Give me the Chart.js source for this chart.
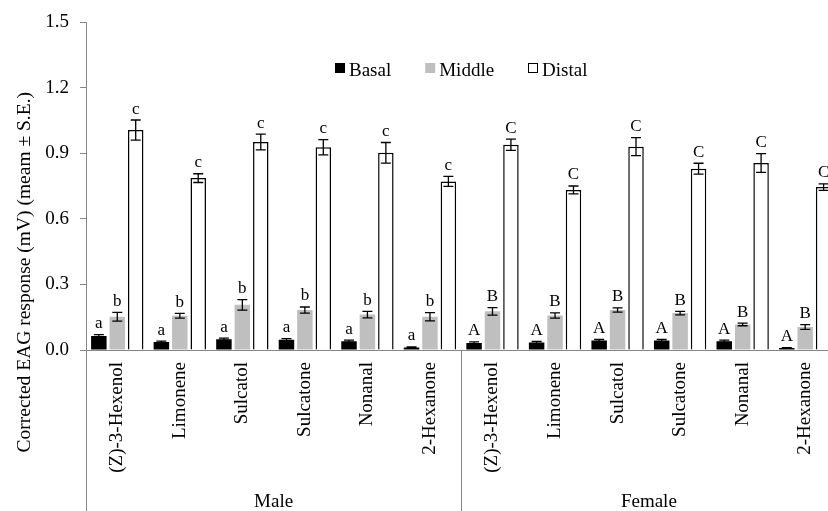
<!DOCTYPE html>
<html>
<head>
<meta charset="utf-8">
<script src="https://cdn.jsdelivr.net/npm/chart.js@4.4.1/dist/chart.umd.min.js"></script>
<style>
  html, body { margin: 0; padding: 0; background: #fff; overflow: hidden; }
  #wrap { width: 828px; height: 511px; overflow: hidden; }
</style>
</head>
<body>
<div id="wrap"><canvas id="eagChart" width="840" height="511"></canvas></div>
<script>
const compounds = ['(Z)-3-Hexenol', 'Limonene', 'Sulcatol', 'Sulcatone', 'Nonanal', '2-Hexanone'];
const categories = compounds.concat(compounds);
const groupLabels = ['Male', 'Female'];
const yTicks = [0, 0.3, 0.6, 0.9, 1.2, 1.5];

const basal = [0.064, 0.037, 0.049, 0.047, 0.040, 0.012, 0.032, 0.034, 0.043, 0.043, 0.040, 0.009];
const basalErr = [0.006, 0.004, 0.005, 0.005, 0.005, 0.002, 0.005, 0.005, 0.005, 0.005, 0.005, 0.002];
const middle = [0.152, 0.157, 0.207, 0.183, 0.162, 0.152, 0.177, 0.158, 0.183, 0.169, 0.117, 0.105];
const middleErr = [0.020, 0.011, 0.024, 0.014, 0.015, 0.019, 0.017, 0.012, 0.010, 0.008, 0.006, 0.011];
const distal = [1.007, 0.787, 0.952, 0.928, 0.903, 0.772, 0.940, 0.733, 0.931, 0.830, 0.856, 0.746];
const distalErr = [0.046, 0.020, 0.036, 0.035, 0.047, 0.023, 0.026, 0.018, 0.041, 0.025, 0.043, 0.015];

const basalLetters = ['a', 'a', 'a', 'a', 'a', 'a', 'A', 'A', 'A', 'A', 'A', 'A'];
const middleLetters = ['b', 'b', 'b', 'b', 'b', 'b', 'B', 'B', 'B', 'B', 'B', 'B'];
const distalLetters = ['c', 'c', 'c', 'c', 'c', 'c', 'C', 'C', 'C', 'C', 'C', 'C'];

const yTitle = 'Corrected EAG response (mV) (meam \u00b1 S.E.)';

const SERIF = '"Liberation Serif", "Times New Roman", serif';
const AXIS_GRAY = '#878787';

// error bars + significance letters, positioned from the bar elements
const errorBarPlugin = {
    id: 'errorBars',
    afterDatasetsDraw(chart) {
        const ctx = chart.ctx;
        const y = chart.scales.y;
        ctx.save();
        chart.data.datasets.forEach((ds, i) => {
            const meta = chart.getDatasetMeta(i);
            meta.data.forEach((bar, j) => {
                const v = ds.data[j];
                const e = ds.errors[j];
                const top = y.getPixelForValue(v + e);
                const bot = y.getPixelForValue(v - e);
                ctx.strokeStyle = '#000';
                ctx.lineWidth = 1.3;
                ctx.beginPath();
                ctx.moveTo(bar.x, top); ctx.lineTo(bar.x, bot);
                ctx.moveTo(bar.x - 5, top); ctx.lineTo(bar.x + 5, top);
                ctx.moveTo(bar.x - 5, bot); ctx.lineTo(bar.x + 5, bot);
                ctx.stroke();

                ctx.fillStyle = '#000';
                ctx.font = '17px ' + SERIF;
                ctx.textAlign = 'center';
                ctx.textBaseline = 'alphabetic';
                ctx.fillText(ds.letters[j], bar.x, top - 6.5);
            });
        });
        ctx.restore();
    }
};

// legend row inside the plot, group separators under the axis, y axis title
const decorPlugin = {
    id: 'decor',
    afterDraw(chart) {
        const ctx = chart.ctx;
        const area = chart.chartArea;
        const x = chart.scales.x;
        const half = (x.getPixelForValue(1) - x.getPixelForValue(0)) / 2;
        ctx.save();
        ctx.strokeStyle = AXIS_GRAY;
        ctx.lineWidth = 1;
        [0, compounds.length, categories.length].forEach(i => {
            const px = Math.round(x.getPixelForValue(i) - half) + 0.5;
            ctx.beginPath();
            ctx.moveTo(px, area.bottom);
            ctx.lineTo(px, chart.height);
            ctx.stroke();
        });

        // legend
        ctx.font = '19px ' + SERIF;
        const box = 10, gap = 4, spacing = 34;
        const items = chart.data.datasets.map(ds => ({ ds, w: ctx.measureText(ds.label).width }));
        const total = items.reduce((s, it) => s + box + gap + it.w, 0) + spacing * (items.length - 1);
        let lx = (area.left + area.right) / 2 - total / 2;
        items.forEach(it => {
            ctx.fillStyle = it.ds.backgroundColor;
            ctx.fillRect(lx, 63, box, box);
            if (it.ds.borderWidth) {
                ctx.strokeStyle = it.ds.borderColor;
                ctx.lineWidth = 1;
                ctx.strokeRect(Math.round(lx) + 0.5, 63.5, box - 1, box - 1);
            }
            ctx.fillStyle = '#000';
            ctx.textAlign = 'left';
            ctx.textBaseline = 'alphabetic';
            ctx.fillText(it.ds.label, lx + box + gap, 76);
            lx += box + gap + it.w + spacing;
        });

        ctx.fillStyle = '#000';
        ctx.font = '19.5px ' + SERIF;
        ctx.translate(25, 92);
        ctx.rotate(-Math.PI / 2);
        ctx.textAlign = 'right';
        ctx.textBaseline = 'middle';
        ctx.fillText(yTitle, 0, 0);
        ctx.restore();
    }
};

new Chart(document.getElementById('eagChart'), {
    type: 'bar',
    data: {
        labels: categories,
        datasets: [
            { label: 'Basal', data: basal, errors: basalErr, letters: basalLetters,
              backgroundColor: '#000', borderColor: '#000', borderWidth: 0 },
            { label: 'Middle', data: middle, errors: middleErr, letters: middleLetters,
              backgroundColor: '#bfbfbf', borderColor: '#bfbfbf', borderWidth: 0 },
            { label: 'Distal', data: distal, errors: distalErr, letters: distalLetters,
              backgroundColor: '#fff', borderColor: '#000', borderWidth: 1.5 }
        ]
    },
    options: {
        responsive: false,
        animation: false,
        categoryPercentage: 0.884,
        barPercentage: 0.84,
        layout: { padding: { top: 20, right: 0, bottom: 0, left: 0 } },
        plugins: {
            legend: { display: false },
            tooltip: { enabled: false }
        },
        scales: {
            x: {
                weight: 0,
                grid: { display: true, drawOnChartArea: false, drawTicks: false },
                border: { color: AXIS_GRAY, width: 1 },
                ticks: {
                    autoSkip: false,
                    minRotation: 90,
                    maxRotation: 90,
                    padding: 12,
                    color: '#000',
                    font: { family: SERIF, size: 19 }
                },
                afterFit(scale) { scale.height = 130; }
            },
            x2: {
                type: 'category',
                labels: groupLabels,
                position: 'bottom',
                weight: 1,
                offset: true,
                grid: { display: false },
                border: { display: false },
                ticks: {
                    padding: 3,
                    color: '#000',
                    font: { family: SERIF, size: 19 }
                },
                afterFit(scale) { scale.height = 31; }
            },
            y: {
                min: 0,
                max: 1.5,
                afterBuildTicks(scale) { scale.ticks = yTicks.map(v => ({ value: v })); },
                grid: { drawOnChartArea: false, tickLength: 6, color: AXIS_GRAY },
                border: { color: AXIS_GRAY, width: 1 },
                ticks: {
                    padding: 11,
                    color: '#000',
                    font: { family: SERIF, size: 19 },
                    callback: v => Number(v).toFixed(1)
                },
                title: { display: false },
                afterFit(scale) { scale.width = 86; }
            }
        }
    },
    plugins: [errorBarPlugin, decorPlugin]
});
</script>
</body>
</html>
